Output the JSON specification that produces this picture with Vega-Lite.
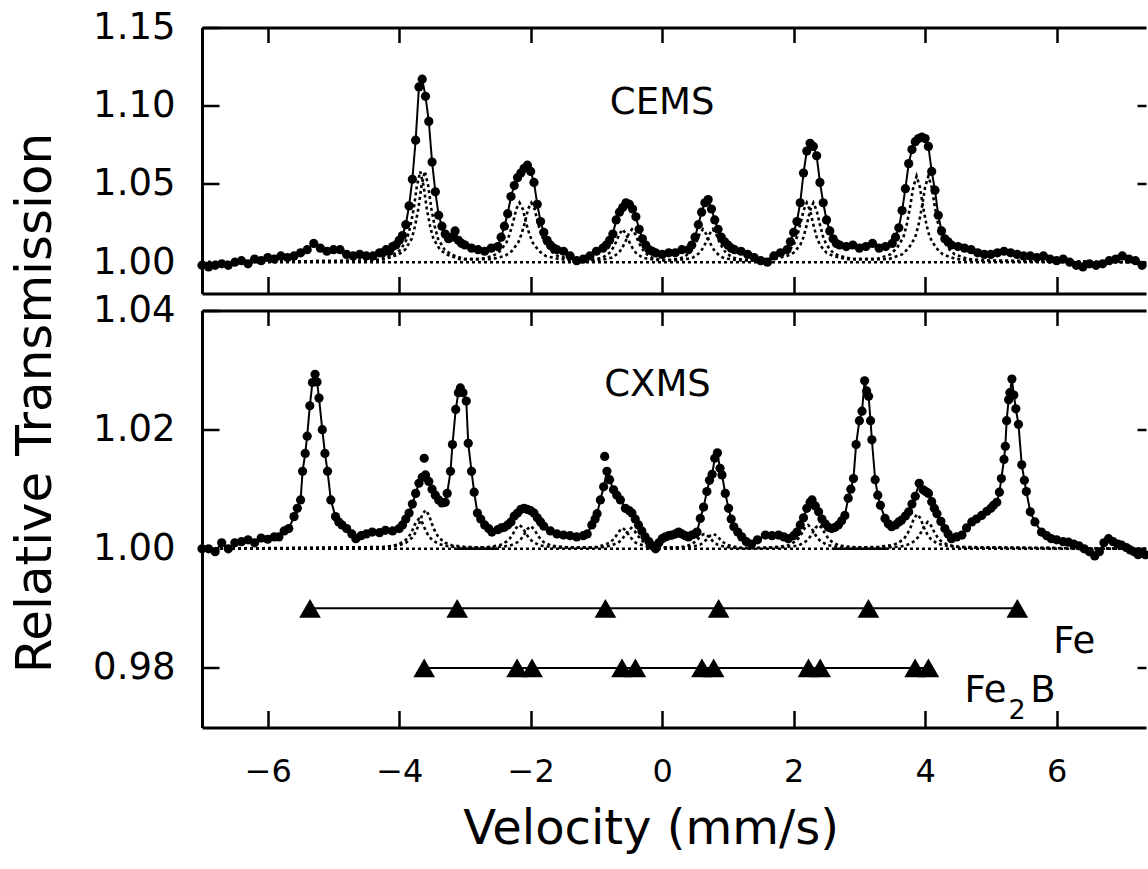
{
"$schema":"https://vega.github.io/schema/vega-lite/v6.json",
"background":"white",
"padding":{"left":10,"top":8.5,"right":0,"bottom":0},
"spacing":17,
"bounds":"flush",
"config":{"view":{"stroke":null},"axis":{"domainColor":"black","tickColor":"black","labelColor":"black","titleColor":"black","grid":false,"labelFont":"DejaVu Sans","titleFont":"DejaVu Sans","titleFontWeight":"normal","domainWidth":3,"tickWidth":2.5,"labelFlush":false,"labelOverlap":false}},
"datasets":{
"base":[{"v":-7,"t":1},{"v":7.36,"t":1}],
"seg":[{"v":-3.12,"t":1,"s":1},{"v":-2.5,"t":1,"s":1},{"v":2.58,"t":1,"s":2},{"v":3.44,"t":1,"s":2}],
"tri":[{"v":-5.357,"t":0.99,"r":"Fe"},{"v":-3.118,"t":0.99,"r":"Fe"},{"v":-0.863,"t":0.99,"r":"Fe"},{"v":0.859,"t":0.99,"r":"Fe"},{"v":3.138,"t":0.99,"r":"Fe"},{"v":5.403,"t":0.99,"r":"Fe"},
{"v":-3.62,"t":0.98,"r":"Fe2B"},{"v":-2.207,"t":0.98,"r":"Fe2B"},{"v":-1.979,"t":0.98,"r":"Fe2B"},{"v":-0.611,"t":0.98,"r":"Fe2B"},{"v":-0.407,"t":0.98,"r":"Fe2B"},{"v":0.605,"t":0.98,"r":"Fe2B"},{"v":0.783,"t":0.98,"r":"Fe2B"},{"v":2.226,"t":0.98,"r":"Fe2B"},{"v":2.404,"t":0.98,"r":"Fe2B"},{"v":3.848,"t":0.98,"r":"Fe2B"},{"v":4.05,"t":0.98,"r":"Fe2B"}],
"labTop":[{"v":0,"t":1.0946,"label":"CEMS"}],
"labBotC":[{"v":-0.07,"t":1.0256,"label":"CXMS"}],
"labBotL":[{"v":5.95,"t":0.9825,"label":"Fe"},{"v":4.6,"t":0.9743,"label":"Fe"},{"v":5.6,"t":0.9743,"label":"B"}],
"labSub":[{"v":5.27,"t":0.97151,"label":"2"}],
"cems":[
{"v":-7.0,"t":0.998},{"v":-6.9,"t":0.997},{"v":-6.8,"t":0.998},{"v":-6.7,"t":0.999},{"v":-6.6,"t":0.998},{"v":-6.5,"t":1.000},{"v":-6.4,"t":1.001},{"v":-6.3,"t":0.999},{"v":-6.2,"t":1.002},{"v":-6.1,"t":1.001},{"v":-6.0,"t":1.003},{"v":-5.9,"t":1.002},{"v":-5.8,"t":1.004},{"v":-5.7,"t":1.003},{"v":-5.6,"t":1.004},{"v":-5.5,"t":1.006},{"v":-5.4,"t":1.008},{"v":-5.3,"t":1.012},{"v":-5.2,"t":1.009},{"v":-5.1,"t":1.007},{"v":-5.0,"t":1.008},{"v":-4.9,"t":1.008},{"v":-4.8,"t":1.005},{"v":-4.7,"t":1.004},{"v":-4.6,"t":1.005},{"v":-4.5,"t":1.004},{"v":-4.4,"t":1.004},{"v":-4.3,"t":1.006},
{"v":-4.25,"t":1.006},{"v":-4.2,"t":1.008},{"v":-4.15,"t":1.007},{"v":-4.1,"t":1.010},{"v":-4.05,"t":1.011},{"v":-4.0,"t":1.014},{"v":-3.95,"t":1.017},{"v":-3.9,"t":1.024},{"v":-3.85,"t":1.036},{"v":-3.8,"t":1.053},{"v":-3.75,"t":1.078},{"v":-3.7,"t":1.112},{"v":-3.65,"t":1.117},{"v":-3.6,"t":1.106},{"v":-3.55,"t":1.090},{"v":-3.5,"t":1.064},{"v":-3.45,"t":1.045},{"v":-3.4,"t":1.030},{"v":-3.35,"t":1.023},{"v":-3.3,"t":1.018},{"v":-3.25,"t":1.015},{"v":-3.2,"t":1.016},{"v":-3.15,"t":1.020},{"v":-3.1,"t":1.014},{"v":-3.05,"t":1.012},{"v":-3.0,"t":1.011},
{"v":-2.9,"t":1.009},{"v":-2.8,"t":1.008},{"v":-2.7,"t":1.007},{"v":-2.6,"t":1.009},{"v":-2.5,"t":1.010},
{"v":-2.45,"t":1.016},{"v":-2.4,"t":1.023},{"v":-2.35,"t":1.031},{"v":-2.3,"t":1.042},{"v":-2.25,"t":1.049},{"v":-2.2,"t":1.054},{"v":-2.15,"t":1.057},{"v":-2.1,"t":1.060},{"v":-2.05,"t":1.062},{"v":-2.0,"t":1.058},{"v":-1.95,"t":1.051},{"v":-1.9,"t":1.037},{"v":-1.85,"t":1.026},{"v":-1.8,"t":1.019},{"v":-1.75,"t":1.014},{"v":-1.7,"t":1.011},{"v":-1.65,"t":1.009},{"v":-1.6,"t":1.008},
{"v":-1.5,"t":1.007},{"v":-1.4,"t":1.004},{"v":-1.3,"t":1.001},{"v":-1.2,"t":1.002},{"v":-1.1,"t":1.004},{"v":-1.0,"t":1.007},
{"v":-0.9,"t":1.009},{"v":-0.85,"t":1.011},{"v":-0.8,"t":1.014},{"v":-0.75,"t":1.018},{"v":-0.7,"t":1.027},{"v":-0.65,"t":1.032},{"v":-0.6,"t":1.035},{"v":-0.55,"t":1.038},{"v":-0.5,"t":1.037},{"v":-0.45,"t":1.034},{"v":-0.4,"t":1.029},{"v":-0.35,"t":1.021},{"v":-0.3,"t":1.015},{"v":-0.25,"t":1.011},{"v":-0.2,"t":1.008},{"v":-0.15,"t":1.007},{"v":-0.1,"t":1.006},
{"v":0.0,"t":1.005},{"v":0.1,"t":1.006},{"v":0.2,"t":1.006},{"v":0.3,"t":1.008},
{"v":0.4,"t":1.008},{"v":0.45,"t":1.011},{"v":0.5,"t":1.016},{"v":0.55,"t":1.024},{"v":0.6,"t":1.032},{"v":0.65,"t":1.038},{"v":0.7,"t":1.040},{"v":0.75,"t":1.034},{"v":0.8,"t":1.027},{"v":0.85,"t":1.021},{"v":0.9,"t":1.016},{"v":0.95,"t":1.013},{"v":1.0,"t":1.011},{"v":1.05,"t":1.009},{"v":1.1,"t":1.008},
{"v":1.2,"t":1.007},{"v":1.3,"t":1.005},{"v":1.4,"t":1.003},{"v":1.5,"t":1.001},{"v":1.6,"t":1.000},{"v":1.7,"t":1.004},{"v":1.8,"t":1.006},{"v":1.9,"t":1.008},
{"v":1.95,"t":1.013},{"v":2.0,"t":1.019},{"v":2.05,"t":1.026},{"v":2.1,"t":1.038},{"v":2.15,"t":1.057},{"v":2.2,"t":1.071},{"v":2.25,"t":1.076},{"v":2.3,"t":1.074},{"v":2.35,"t":1.068},{"v":2.4,"t":1.051},{"v":2.45,"t":1.038},{"v":2.5,"t":1.027},{"v":2.55,"t":1.020},{"v":2.6,"t":1.015},{"v":2.65,"t":1.012},{"v":2.7,"t":1.011},
{"v":2.8,"t":1.010},{"v":2.9,"t":1.011},{"v":3.0,"t":1.009},{"v":3.1,"t":1.010},{"v":3.2,"t":1.012},{"v":3.3,"t":1.009},{"v":3.4,"t":1.010},{"v":3.5,"t":1.012},
{"v":3.55,"t":1.016},{"v":3.6,"t":1.022},{"v":3.65,"t":1.033},{"v":3.7,"t":1.047},{"v":3.75,"t":1.063},{"v":3.8,"t":1.072},{"v":3.85,"t":1.077},{"v":3.9,"t":1.079},{"v":3.95,"t":1.080},{"v":4.0,"t":1.079},{"v":4.05,"t":1.074},{"v":4.1,"t":1.058},{"v":4.15,"t":1.046},{"v":4.2,"t":1.030},{"v":4.25,"t":1.020},{"v":4.3,"t":1.015},{"v":4.35,"t":1.013},{"v":4.4,"t":1.011},{"v":4.5,"t":1.010},
{"v":4.6,"t":1.009},{"v":4.7,"t":1.008},{"v":4.8,"t":1.006},{"v":4.9,"t":1.005},{"v":5.0,"t":1.005},{"v":5.1,"t":1.006},{"v":5.2,"t":1.007},{"v":5.3,"t":1.006},{"v":5.4,"t":1.005},{"v":5.5,"t":1.004},{"v":5.6,"t":1.004},{"v":5.7,"t":1.003},{"v":5.8,"t":1.004},{"v":5.9,"t":1.002},{"v":6.0,"t":1.001},{"v":6.1,"t":1.002},{"v":6.2,"t":1.000},{"v":6.3,"t":0.998},{"v":6.4,"t":0.997},{"v":6.5,"t":0.999},{"v":6.6,"t":0.998},{"v":6.7,"t":0.999},{"v":6.8,"t":1.001},{"v":6.9,"t":1.002},{"v":7.0,"t":1.004},{"v":7.1,"t":1.002},{"v":7.2,"t":1.001},{"v":7.3,"t":0.998}],
"cemsComp":[
{"v":-7.0,"t":1.0,"c":"A"},{"v":-4.4,"t":1.001,"c":"A"},{"v":-4.28,"t":1.002,"c":"A"},{"v":-4.08,"t":1.005,"c":"A"},{"v":-3.98,"t":1.008,"c":"A"},{"v":-3.88,"t":1.015,"c":"A"},{"v":-3.83,"t":1.023,"c":"A"},{"v":-3.78,"t":1.034,"c":"A"},{"v":-3.73,"t":1.049,"c":"A"},{"v":-3.68,"t":1.058,"c":"A"},{"v":-3.63,"t":1.049,"c":"A"},{"v":-3.58,"t":1.034,"c":"A"},{"v":-3.53,"t":1.023,"c":"A"},{"v":-3.48,"t":1.015,"c":"A"},{"v":-3.38,"t":1.008,"c":"A"},{"v":-3.28,"t":1.005,"c":"A"},{"v":-3.08,"t":1.002,"c":"A"},{"v":-2.9,"t":1.002,"c":"A"},
{"v":-2.77,"t":1.002,"c":"A"},{"v":-2.57,"t":1.004,"c":"A"},{"v":-2.47,"t":1.007,"c":"A"},{"v":-2.37,"t":1.0125,"c":"A"},{"v":-2.32,"t":1.018,"c":"A"},{"v":-2.27,"t":1.025,"c":"A"},{"v":-2.22,"t":1.034,"c":"A"},{"v":-2.17,"t":1.038,"c":"A"},{"v":-2.12,"t":1.034,"c":"A"},{"v":-2.07,"t":1.025,"c":"A"},{"v":-2.02,"t":1.018,"c":"A"},{"v":-1.97,"t":1.0125,"c":"A"},{"v":-1.87,"t":1.007,"c":"A"},{"v":-1.77,"t":1.004,"c":"A"},{"v":-1.57,"t":1.002,"c":"A"},{"v":-1.3,"t":1.001,"c":"A"},
{"v":-1.2,"t":1.001,"c":"A"},{"v":-1.0,"t":1.002,"c":"A"},{"v":-0.9,"t":1.003,"c":"A"},{"v":-0.8,"t":1.006,"c":"A"},{"v":-0.75,"t":1.009,"c":"A"},{"v":-0.7,"t":1.013,"c":"A"},{"v":-0.65,"t":1.018,"c":"A"},{"v":-0.6,"t":1.021,"c":"A"},{"v":-0.55,"t":1.018,"c":"A"},{"v":-0.5,"t":1.013,"c":"A"},{"v":-0.45,"t":1.009,"c":"A"},{"v":-0.4,"t":1.006,"c":"A"},{"v":-0.3,"t":1.003,"c":"A"},{"v":-0.2,"t":1.002,"c":"A"},{"v":0.0,"t":1.001,"c":"A"},
{"v":0.22,"t":1.002,"c":"A"},{"v":0.32,"t":1.003,"c":"A"},{"v":0.42,"t":1.006,"c":"A"},{"v":0.47,"t":1.009,"c":"A"},{"v":0.52,"t":1.013,"c":"A"},{"v":0.57,"t":1.018,"c":"A"},{"v":0.62,"t":1.021,"c":"A"},{"v":0.67,"t":1.018,"c":"A"},{"v":0.72,"t":1.013,"c":"A"},{"v":0.77,"t":1.009,"c":"A"},{"v":0.82,"t":1.006,"c":"A"},{"v":0.92,"t":1.003,"c":"A"},{"v":1.02,"t":1.002,"c":"A"},{"v":1.22,"t":1.001,"c":"A"},
{"v":1.6,"t":1.002,"c":"A"},{"v":1.8,"t":1.004,"c":"A"},{"v":1.9,"t":1.006,"c":"A"},{"v":2.0,"t":1.011,"c":"A"},{"v":2.05,"t":1.016,"c":"A"},{"v":2.1,"t":1.024,"c":"A"},{"v":2.15,"t":1.033,"c":"A"},{"v":2.2,"t":1.038,"c":"A"},{"v":2.25,"t":1.033,"c":"A"},{"v":2.3,"t":1.024,"c":"A"},{"v":2.35,"t":1.016,"c":"A"},{"v":2.4,"t":1.011,"c":"A"},{"v":2.5,"t":1.006,"c":"A"},{"v":2.6,"t":1.004,"c":"A"},{"v":2.8,"t":1.002,"c":"A"},{"v":3.0,"t":1.002,"c":"A"},
{"v":3.27,"t":1.002,"c":"A"},{"v":3.47,"t":1.005,"c":"A"},{"v":3.57,"t":1.009,"c":"A"},{"v":3.67,"t":1.016,"c":"A"},{"v":3.72,"t":1.024,"c":"A"},{"v":3.77,"t":1.035,"c":"A"},{"v":3.82,"t":1.048,"c":"A"},{"v":3.87,"t":1.055,"c":"A"},{"v":3.92,"t":1.048,"c":"A"},{"v":3.97,"t":1.035,"c":"A"},{"v":4.02,"t":1.024,"c":"A"},{"v":4.07,"t":1.016,"c":"A"},{"v":4.17,"t":1.009,"c":"A"},{"v":4.27,"t":1.005,"c":"A"},{"v":4.47,"t":1.002,"c":"A"},{"v":4.8,"t":1.001,"c":"A"},{"v":7.36,"t":1.0,"c":"A"},
{"v":-7.0,"t":1.0,"c":"B"},{"v":-4.4,"t":1.001,"c":"B"},{"v":-4.21,"t":1.002,"c":"B"},{"v":-4.01,"t":1.005,"c":"B"},{"v":-3.91,"t":1.008,"c":"B"},{"v":-3.81,"t":1.015,"c":"B"},{"v":-3.76,"t":1.023,"c":"B"},{"v":-3.71,"t":1.034,"c":"B"},{"v":-3.66,"t":1.049,"c":"B"},{"v":-3.61,"t":1.058,"c":"B"},{"v":-3.56,"t":1.049,"c":"B"},{"v":-3.51,"t":1.034,"c":"B"},{"v":-3.46,"t":1.023,"c":"B"},{"v":-3.41,"t":1.015,"c":"B"},{"v":-3.31,"t":1.008,"c":"B"},{"v":-3.21,"t":1.005,"c":"B"},{"v":-3.01,"t":1.002,"c":"B"},{"v":-2.8,"t":1.002,"c":"B"},
{"v":-2.59,"t":1.002,"c":"B"},{"v":-2.39,"t":1.004,"c":"B"},{"v":-2.29,"t":1.007,"c":"B"},{"v":-2.19,"t":1.0125,"c":"B"},{"v":-2.14,"t":1.018,"c":"B"},{"v":-2.09,"t":1.025,"c":"B"},{"v":-2.04,"t":1.034,"c":"B"},{"v":-1.99,"t":1.038,"c":"B"},{"v":-1.94,"t":1.034,"c":"B"},{"v":-1.89,"t":1.025,"c":"B"},{"v":-1.84,"t":1.018,"c":"B"},{"v":-1.79,"t":1.0125,"c":"B"},{"v":-1.69,"t":1.007,"c":"B"},{"v":-1.59,"t":1.004,"c":"B"},{"v":-1.39,"t":1.002,"c":"B"},{"v":-1.2,"t":1.001,"c":"B"},
{"v":-1.06,"t":1.001,"c":"B"},{"v":-0.86,"t":1.002,"c":"B"},{"v":-0.76,"t":1.003,"c":"B"},{"v":-0.66,"t":1.006,"c":"B"},{"v":-0.61,"t":1.009,"c":"B"},{"v":-0.56,"t":1.013,"c":"B"},{"v":-0.51,"t":1.018,"c":"B"},{"v":-0.46,"t":1.021,"c":"B"},{"v":-0.41,"t":1.018,"c":"B"},{"v":-0.36,"t":1.013,"c":"B"},{"v":-0.31,"t":1.009,"c":"B"},{"v":-0.26,"t":1.006,"c":"B"},{"v":-0.16,"t":1.003,"c":"B"},{"v":-0.06,"t":1.002,"c":"B"},{"v":0.14,"t":1.001,"c":"B"},
{"v":0.37,"t":1.002,"c":"B"},{"v":0.47,"t":1.003,"c":"B"},{"v":0.57,"t":1.006,"c":"B"},{"v":0.62,"t":1.009,"c":"B"},{"v":0.67,"t":1.013,"c":"B"},{"v":0.72,"t":1.018,"c":"B"},{"v":0.77,"t":1.021,"c":"B"},{"v":0.82,"t":1.018,"c":"B"},{"v":0.87,"t":1.013,"c":"B"},{"v":0.92,"t":1.009,"c":"B"},{"v":0.97,"t":1.006,"c":"B"},{"v":1.07,"t":1.003,"c":"B"},{"v":1.17,"t":1.002,"c":"B"},{"v":1.37,"t":1.001,"c":"B"},
{"v":1.7,"t":1.002,"c":"B"},{"v":1.9,"t":1.004,"c":"B"},{"v":2.0,"t":1.006,"c":"B"},{"v":2.1,"t":1.011,"c":"B"},{"v":2.15,"t":1.016,"c":"B"},{"v":2.2,"t":1.024,"c":"B"},{"v":2.25,"t":1.033,"c":"B"},{"v":2.3,"t":1.038,"c":"B"},{"v":2.35,"t":1.033,"c":"B"},{"v":2.4,"t":1.024,"c":"B"},{"v":2.45,"t":1.016,"c":"B"},{"v":2.5,"t":1.011,"c":"B"},{"v":2.6,"t":1.006,"c":"B"},{"v":2.7,"t":1.004,"c":"B"},{"v":2.9,"t":1.002,"c":"B"},{"v":3.1,"t":1.002,"c":"B"},
{"v":3.45,"t":1.002,"c":"B"},{"v":3.65,"t":1.005,"c":"B"},{"v":3.75,"t":1.009,"c":"B"},{"v":3.85,"t":1.016,"c":"B"},{"v":3.9,"t":1.024,"c":"B"},{"v":3.95,"t":1.035,"c":"B"},{"v":4.0,"t":1.048,"c":"B"},{"v":4.05,"t":1.055,"c":"B"},{"v":4.1,"t":1.048,"c":"B"},{"v":4.15,"t":1.035,"c":"B"},{"v":4.2,"t":1.024,"c":"B"},{"v":4.25,"t":1.016,"c":"B"},{"v":4.35,"t":1.009,"c":"B"},{"v":4.45,"t":1.005,"c":"B"},{"v":4.65,"t":1.002,"c":"B"},{"v":5.0,"t":1.001,"c":"B"},{"v":7.36,"t":1.0,"c":"B"}],
"cxms":[
{"v":-7.0,"t":1.000},{"v":-6.9,"t":1.000},{"v":-6.8,"t":0.9995},{"v":-6.7,"t":1.001},{"v":-6.6,"t":1.000},{"v":-6.5,"t":1.001},{"v":-6.4,"t":1.0012},{"v":-6.3,"t":1.0015},{"v":-6.2,"t":1.001},{"v":-6.1,"t":1.0018},{"v":-6.0,"t":1.0016},{"v":-5.9,"t":1.002},{"v":-5.83,"t":1.002},
{"v":-5.75,"t":1.003},{"v":-5.68,"t":1.0034},{"v":-5.6,"t":1.0054},{"v":-5.55,"t":1.0068},{"v":-5.5,"t":1.0082},{"v":-5.47,"t":1.013},{"v":-5.43,"t":1.016},{"v":-5.4,"t":1.0189},{"v":-5.36,"t":1.024},{"v":-5.32,"t":1.0279},{"v":-5.28,"t":1.0293},{"v":-5.25,"t":1.028},{"v":-5.22,"t":1.0253},{"v":-5.17,"t":1.020},{"v":-5.13,"t":1.016},{"v":-5.09,"t":1.013},{"v":-5.04,"t":1.0082},{"v":-4.97,"t":1.0054},{"v":-4.92,"t":1.0045},{"v":-4.87,"t":1.004},{"v":-4.8,"t":1.0034},{"v":-4.72,"t":1.0025},{"v":-4.66,"t":1.0017},{"v":-4.58,"t":1.0022},{"v":-4.5,"t":1.0025},{"v":-4.41,"t":1.0028},{"v":-4.3,"t":1.0027},{"v":-4.21,"t":1.0031},{"v":-4.1,"t":1.003},{"v":-4.0,"t":1.0034},
{"v":-3.95,"t":1.004},{"v":-3.9,"t":1.005},{"v":-3.85,"t":1.006},{"v":-3.8,"t":1.0075},{"v":-3.75,"t":1.0093},{"v":-3.7,"t":1.011},{"v":-3.65,"t":1.012},{"v":-3.62,"t":1.0152,"o":1},{"v":-3.6,"t":1.0124},{"v":-3.55,"t":1.0113},{"v":-3.5,"t":1.010},{"v":-3.45,"t":1.009},{"v":-3.4,"t":1.0082},{"v":-3.35,"t":1.0077},{"v":-3.3,"t":1.0078},{"v":-3.27,"t":1.0093},{"v":-3.22,"t":1.013},{"v":-3.19,"t":1.0175},{"v":-3.14,"t":1.0234},{"v":-3.1,"t":1.0262},{"v":-3.07,"t":1.027},{"v":-3.03,"t":1.0262},{"v":-2.98,"t":1.0248},{"v":-2.95,"t":1.0177},{"v":-2.9,"t":1.013},{"v":-2.86,"t":1.0095},{"v":-2.81,"t":1.006},{"v":-2.76,"t":1.005},{"v":-2.7,"t":1.004},{"v":-2.64,"t":1.0034},{"v":-2.59,"t":1.0028},{"v":-2.5,"t":1.0032},
{"v":-2.45,"t":1.0035},{"v":-2.4,"t":1.0036},{"v":-2.35,"t":1.004},{"v":-2.3,"t":1.0045},{"v":-2.25,"t":1.0055},{"v":-2.2,"t":1.006},{"v":-2.15,"t":1.0066},{"v":-2.1,"t":1.0068},{"v":-2.05,"t":1.0066},{"v":-2.0,"t":1.0064},{"v":-1.95,"t":1.006},{"v":-1.9,"t":1.0052},{"v":-1.85,"t":1.0045},{"v":-1.8,"t":1.0038},{"v":-1.7,"t":1.003},{"v":-1.6,"t":1.0025},{"v":-1.5,"t":1.0023},{"v":-1.4,"t":1.0022},{"v":-1.3,"t":1.002},{"v":-1.2,"t":1.0022},{"v":-1.14,"t":1.0025},
{"v":-1.07,"t":1.004},{"v":-1.02,"t":1.005},{"v":-0.99,"t":1.0059},{"v":-0.94,"t":1.0082},{"v":-0.89,"t":1.0104},{"v":-0.874,"t":1.0155,"o":1},{"v":-0.84,"t":1.013},{"v":-0.8,"t":1.0116},{"v":-0.74,"t":1.0099},{"v":-0.69,"t":1.009},{"v":-0.635,"t":1.0082},{"v":-0.56,"t":1.0068},{"v":-0.5,"t":1.0064},{"v":-0.46,"t":1.006},{"v":-0.41,"t":1.005},{"v":-0.36,"t":1.004},{"v":-0.31,"t":1.003},{"v":-0.26,"t":1.002},{"v":-0.2,"t":1.0012},{"v":-0.15,"t":1.0005},{"v":-0.1,"t":1.000},{"v":-0.05,"t":1.001},{"v":0.0,"t":1.0017},{"v":0.05,"t":1.002},{"v":0.1,"t":1.0022},{"v":0.15,"t":1.0023},{"v":0.2,"t":1.0025},{"v":0.25,"t":1.0028},{"v":0.3,"t":1.0025},{"v":0.35,"t":1.0022},{"v":0.4,"t":1.002},{"v":0.45,"t":1.0023},{"v":0.5,"t":1.0025},
{"v":0.53,"t":1.0028},{"v":0.58,"t":1.0051},{"v":0.63,"t":1.007},{"v":0.68,"t":1.0096},{"v":0.72,"t":1.0115},{"v":0.76,"t":1.0125},{"v":0.8,"t":1.0152},{"v":0.84,"t":1.0161},{"v":0.88,"t":1.0135},{"v":0.91,"t":1.0124},{"v":0.96,"t":1.0093},{"v":1.01,"t":1.0068},{"v":1.05,"t":1.005},{"v":1.09,"t":1.0037},{"v":1.15,"t":1.0028},{"v":1.21,"t":1.002},{"v":1.28,"t":1.0012},{"v":1.36,"t":1.0008},{"v":1.45,"t":1.0015},{"v":1.57,"t":1.0023},{"v":1.67,"t":1.0022},{"v":1.77,"t":1.0023},{"v":1.85,"t":1.002},{"v":1.92,"t":1.0017},
{"v":2.0,"t":1.0022},{"v":2.05,"t":1.0028},{"v":2.1,"t":1.004},{"v":2.15,"t":1.0052},{"v":2.2,"t":1.0068},{"v":2.25,"t":1.0078},{"v":2.28,"t":1.0082},{"v":2.33,"t":1.0072},{"v":2.38,"t":1.0062},{"v":2.43,"t":1.005},{"v":2.48,"t":1.0042},{"v":2.53,"t":1.0036},{"v":2.58,"t":1.0034},{"v":2.63,"t":1.0036},{"v":2.68,"t":1.004},{"v":2.73,"t":1.0047},
{"v":2.78,"t":1.0056},{"v":2.83,"t":1.0085},{"v":2.87,"t":1.010},{"v":2.91,"t":1.0118},{"v":2.95,"t":1.0175},{"v":3.0,"t":1.0215},{"v":3.04,"t":1.0231},{"v":3.08,"t":1.0282},{"v":3.11,"t":1.0265},{"v":3.14,"t":1.0256},{"v":3.17,"t":1.0215},{"v":3.19,"t":1.0183},{"v":3.24,"t":1.0116},{"v":3.28,"t":1.009},{"v":3.32,"t":1.0073},{"v":3.39,"t":1.0051},{"v":3.44,"t":1.0042},{"v":3.49,"t":1.0037},{"v":3.55,"t":1.004},{"v":3.6,"t":1.0045},{"v":3.64,"t":1.0048},
{"v":3.7,"t":1.0055},{"v":3.75,"t":1.0062},{"v":3.8,"t":1.0075},{"v":3.85,"t":1.0088},{"v":3.91,"t":1.011},{"v":3.97,"t":1.0099},{"v":4.01,"t":1.0096},{"v":4.05,"t":1.0093},{"v":4.1,"t":1.0079},{"v":4.14,"t":1.0068},{"v":4.18,"t":1.0059},{"v":4.24,"t":1.0046},{"v":4.3,"t":1.0034},{"v":4.35,"t":1.0025},{"v":4.4,"t":1.0017},{"v":4.48,"t":1.002},{"v":4.56,"t":1.0023},{"v":4.63,"t":1.0035},{"v":4.71,"t":1.0045},{"v":4.78,"t":1.005},{"v":4.86,"t":1.0056},{"v":4.94,"t":1.0063},{"v":5.0,"t":1.0068},{"v":5.04,"t":1.0073},
{"v":5.09,"t":1.0078},{"v":5.13,"t":1.0095},{"v":5.16,"t":1.0118},{"v":5.2,"t":1.015},{"v":5.22,"t":1.0172},{"v":5.24,"t":1.0215},{"v":5.27,"t":1.025},{"v":5.29,"t":1.0262},{"v":5.32,"t":1.0285},{"v":5.35,"t":1.0258},{"v":5.38,"t":1.0235},{"v":5.42,"t":1.0209},{"v":5.47,"t":1.0141},{"v":5.51,"t":1.0115},{"v":5.54,"t":1.0096},{"v":5.6,"t":1.0062},{"v":5.67,"t":1.0045},{"v":5.77,"t":1.0028},{"v":5.85,"t":1.0022},{"v":5.92,"t":1.0017},{"v":6.0,"t":1.0015},{"v":6.1,"t":1.0012},{"v":6.18,"t":1.0011},{"v":6.26,"t":1.0008},{"v":6.34,"t":1.0005},{"v":6.42,"t":1.000},{"v":6.5,"t":0.9995},{"v":6.58,"t":0.9988},{"v":6.65,"t":0.9995},{"v":6.72,"t":1.001},{"v":6.79,"t":1.0017},{"v":6.86,"t":1.0012},{"v":6.93,"t":1.0008},{"v":6.99,"t":1.0006},{"v":7.06,"t":1.0002},{"v":7.12,"t":0.9998},{"v":7.18,"t":0.9995},{"v":7.24,"t":0.999},{"v":7.3,"t":0.9993},{"v":7.35,"t":0.999}],
"cxmsComp":[
{"v":-7.0,"t":1.0,"c":"A"},{"v":-4.3,"t":1.0002,"c":"A"},{"v":-4.1,"t":1.0005,"c":"A"},{"v":-4.0,"t":1.0008,"c":"A"},{"v":-3.9,"t":1.0015,"c":"A"},{"v":-3.85,"t":1.0021,"c":"A"},{"v":-3.8,"t":1.0031,"c":"A"},{"v":-3.75,"t":1.0044,"c":"A"},{"v":-3.7,"t":1.005,"c":"A"},{"v":-3.65,"t":1.0044,"c":"A"},{"v":-3.6,"t":1.0031,"c":"A"},{"v":-3.55,"t":1.0021,"c":"A"},{"v":-3.5,"t":1.0015,"c":"A"},{"v":-3.4,"t":1.0008,"c":"A"},{"v":-3.3,"t":1.0005,"c":"A"},{"v":-3.1,"t":1.0002,"c":"A"},
{"v":-2.77,"t":1.0002,"c":"A"},{"v":-2.57,"t":1.0004,"c":"A"},{"v":-2.47,"t":1.0006,"c":"A"},{"v":-2.37,"t":1.0012,"c":"A"},{"v":-2.32,"t":1.0017,"c":"A"},{"v":-2.27,"t":1.0025,"c":"A"},{"v":-2.22,"t":1.0035,"c":"A"},{"v":-2.17,"t":1.004,"c":"A"},{"v":-2.12,"t":1.0035,"c":"A"},{"v":-2.07,"t":1.0025,"c":"A"},{"v":-2.02,"t":1.0017,"c":"A"},{"v":-1.97,"t":1.0012,"c":"A"},{"v":-1.87,"t":1.0006,"c":"A"},{"v":-1.77,"t":1.0004,"c":"A"},{"v":-1.57,"t":1.0002,"c":"A"},
{"v":-1.2,"t":1.0002,"c":"A"},{"v":-1.0,"t":1.0003,"c":"A"},{"v":-0.9,"t":1.0006,"c":"A"},{"v":-0.8,"t":1.001,"c":"A"},{"v":-0.75,"t":1.0015,"c":"A"},{"v":-0.7,"t":1.0022,"c":"A"},{"v":-0.65,"t":1.003,"c":"A"},{"v":-0.6,"t":1.0035,"c":"A"},{"v":-0.55,"t":1.003,"c":"A"},{"v":-0.5,"t":1.0022,"c":"A"},{"v":-0.45,"t":1.0015,"c":"A"},{"v":-0.4,"t":1.001,"c":"A"},{"v":-0.3,"t":1.0006,"c":"A"},{"v":-0.2,"t":1.0003,"c":"A"},{"v":0.0,"t":1.0002,"c":"A"},
{"v":0.24,"t":1.0002,"c":"A"},{"v":0.34,"t":1.0004,"c":"A"},{"v":0.44,"t":1.0007,"c":"A"},{"v":0.49,"t":1.0011,"c":"A"},{"v":0.54,"t":1.0016,"c":"A"},{"v":0.59,"t":1.0022,"c":"A"},{"v":0.64,"t":1.0025,"c":"A"},{"v":0.69,"t":1.0022,"c":"A"},{"v":0.74,"t":1.0016,"c":"A"},{"v":0.79,"t":1.0011,"c":"A"},{"v":0.84,"t":1.0007,"c":"A"},{"v":0.94,"t":1.0004,"c":"A"},{"v":1.04,"t":1.0002,"c":"A"},{"v":1.24,"t":1.0001,"c":"A"},
{"v":1.62,"t":1.0002,"c":"A"},{"v":1.82,"t":1.0004,"c":"A"},{"v":1.92,"t":1.0006,"c":"A"},{"v":2.02,"t":1.0012,"c":"A"},{"v":2.07,"t":1.0017,"c":"A"},{"v":2.12,"t":1.0025,"c":"A"},{"v":2.17,"t":1.0035,"c":"A"},{"v":2.22,"t":1.004,"c":"A"},{"v":2.27,"t":1.0035,"c":"A"},{"v":2.32,"t":1.0025,"c":"A"},{"v":2.37,"t":1.0017,"c":"A"},{"v":2.42,"t":1.0012,"c":"A"},{"v":2.52,"t":1.0006,"c":"A"},{"v":2.62,"t":1.0004,"c":"A"},{"v":2.82,"t":1.0002,"c":"A"},
{"v":3.28,"t":1.0003,"c":"A"},{"v":3.48,"t":1.0006,"c":"A"},{"v":3.58,"t":1.0009,"c":"A"},{"v":3.68,"t":1.0017,"c":"A"},{"v":3.73,"t":1.0025,"c":"A"},{"v":3.78,"t":1.0036,"c":"A"},{"v":3.83,"t":1.0051,"c":"A"},{"v":3.88,"t":1.0058,"c":"A"},{"v":3.93,"t":1.0051,"c":"A"},{"v":3.98,"t":1.0036,"c":"A"},{"v":4.03,"t":1.0025,"c":"A"},{"v":4.08,"t":1.0017,"c":"A"},{"v":4.18,"t":1.0009,"c":"A"},{"v":4.28,"t":1.0006,"c":"A"},{"v":4.48,"t":1.0003,"c":"A"},{"v":7.36,"t":1.0,"c":"A"},
{"v":-7.0,"t":1.0,"c":"B"},{"v":-4.2,"t":1.0003,"c":"B"},{"v":-4.0,"t":1.0006,"c":"B"},{"v":-3.9,"t":1.001,"c":"B"},{"v":-3.8,"t":1.0019,"c":"B"},{"v":-3.75,"t":1.0028,"c":"B"},{"v":-3.7,"t":1.0041,"c":"B"},{"v":-3.65,"t":1.0057,"c":"B"},{"v":-3.6,"t":1.0065,"c":"B"},{"v":-3.55,"t":1.0057,"c":"B"},{"v":-3.5,"t":1.0041,"c":"B"},{"v":-3.45,"t":1.0028,"c":"B"},{"v":-3.4,"t":1.0019,"c":"B"},{"v":-3.3,"t":1.001,"c":"B"},{"v":-3.2,"t":1.0006,"c":"B"},{"v":-3.0,"t":1.0003,"c":"B"},
{"v":-2.6,"t":1.0002,"c":"B"},{"v":-2.4,"t":1.0004,"c":"B"},{"v":-2.3,"t":1.0006,"c":"B"},{"v":-2.2,"t":1.0011,"c":"B"},{"v":-2.15,"t":1.0016,"c":"B"},{"v":-2.1,"t":1.0024,"c":"B"},{"v":-2.05,"t":1.0033,"c":"B"},{"v":-2.0,"t":1.0038,"c":"B"},{"v":-1.95,"t":1.0033,"c":"B"},{"v":-1.9,"t":1.0024,"c":"B"},{"v":-1.85,"t":1.0016,"c":"B"},{"v":-1.8,"t":1.0011,"c":"B"},{"v":-1.7,"t":1.0006,"c":"B"},{"v":-1.6,"t":1.0004,"c":"B"},{"v":-1.4,"t":1.0002,"c":"B"},
{"v":-1.07,"t":1.0002,"c":"B"},{"v":-0.87,"t":1.0003,"c":"B"},{"v":-0.77,"t":1.0006,"c":"B"},{"v":-0.67,"t":1.001,"c":"B"},{"v":-0.62,"t":1.0015,"c":"B"},{"v":-0.57,"t":1.0022,"c":"B"},{"v":-0.52,"t":1.003,"c":"B"},{"v":-0.47,"t":1.0035,"c":"B"},{"v":-0.42,"t":1.003,"c":"B"},{"v":-0.37,"t":1.0022,"c":"B"},{"v":-0.32,"t":1.0015,"c":"B"},{"v":-0.27,"t":1.001,"c":"B"},{"v":-0.17,"t":1.0006,"c":"B"},{"v":-0.07,"t":1.0003,"c":"B"},{"v":0.13,"t":1.0002,"c":"B"},
{"v":0.38,"t":1.0002,"c":"B"},{"v":0.48,"t":1.0004,"c":"B"},{"v":0.58,"t":1.0007,"c":"B"},{"v":0.63,"t":1.0011,"c":"B"},{"v":0.68,"t":1.0016,"c":"B"},{"v":0.73,"t":1.0022,"c":"B"},{"v":0.78,"t":1.0025,"c":"B"},{"v":0.83,"t":1.0022,"c":"B"},{"v":0.88,"t":1.0016,"c":"B"},{"v":0.93,"t":1.0011,"c":"B"},{"v":0.98,"t":1.0007,"c":"B"},{"v":1.08,"t":1.0004,"c":"B"},{"v":1.18,"t":1.0002,"c":"B"},{"v":1.38,"t":1.0001,"c":"B"},
{"v":1.78,"t":1.0002,"c":"B"},{"v":1.98,"t":1.0004,"c":"B"},{"v":2.08,"t":1.0006,"c":"B"},{"v":2.18,"t":1.0012,"c":"B"},{"v":2.23,"t":1.0017,"c":"B"},{"v":2.28,"t":1.0025,"c":"B"},{"v":2.33,"t":1.0035,"c":"B"},{"v":2.38,"t":1.004,"c":"B"},{"v":2.43,"t":1.0035,"c":"B"},{"v":2.48,"t":1.0025,"c":"B"},{"v":2.53,"t":1.0017,"c":"B"},{"v":2.58,"t":1.0012,"c":"B"},{"v":2.68,"t":1.0006,"c":"B"},{"v":2.78,"t":1.0004,"c":"B"},{"v":2.98,"t":1.0002,"c":"B"},
{"v":3.44,"t":1.0002,"c":"B"},{"v":3.64,"t":1.0004,"c":"B"},{"v":3.74,"t":1.0007,"c":"B"},{"v":3.84,"t":1.0013,"c":"B"},{"v":3.89,"t":1.0019,"c":"B"},{"v":3.94,"t":1.0028,"c":"B"},{"v":3.99,"t":1.0039,"c":"B"},{"v":4.04,"t":1.0045,"c":"B"},{"v":4.09,"t":1.0039,"c":"B"},{"v":4.14,"t":1.0028,"c":"B"},{"v":4.19,"t":1.0019,"c":"B"},{"v":4.24,"t":1.0013,"c":"B"},{"v":4.34,"t":1.0007,"c":"B"},{"v":4.44,"t":1.0004,"c":"B"},{"v":4.64,"t":1.0002,"c":"B"},{"v":7.36,"t":1.0,"c":"B"}]
},
"vconcat":[
{
"width":944,"height":266,
"resolve":{"axis":{"x":"independent","y":"independent"}},
"layer":[
{"data":{"name":"base"},"mark":{"type":"line","color":"black","strokeWidth":2.6,"strokeDash":[3,3]},
 "encoding":{"x":{"field":"v","type":"quantitative","scale":{"domain":[-7,7.36],"nice":false,"zero":false},"axis":null},
  "y":{"field":"t","type":"quantitative","scale":{"domain":[0.98,1.15],"nice":false,"zero":false},"axis":null}}},
{"data":{"name":"cemsComp"},"mark":{"type":"line","color":"black","strokeWidth":2.6,"strokeDash":[3,3]},
 "encoding":{"x":{"field":"v","type":"quantitative","scale":{"domain":[-7,7.36],"nice":false,"zero":false},"axis":null},
  "y":{"field":"t","type":"quantitative","scale":{"domain":[0.98,1.15],"nice":false,"zero":false},"axis":null},
  "detail":{"field":"c"}}},
{"data":{"name":"cems"},"mark":{"type":"line","color":"black","strokeWidth":2},
 "encoding":{"x":{"field":"v","type":"quantitative","scale":{"domain":[-7,7.36],"nice":false,"zero":false},
   "axis":{"orient":"top","values":[-6,-4,-2,0,2,4,6],"labels":false,"tickSize":-15,"title":null}},
  "y":{"field":"t","type":"quantitative","scale":{"domain":[0.98,1.15],"nice":false,"zero":false},
   "axis":{"orient":"right","values":[1,1.05,1.1],"labels":false,"domain":false,"tickSize":-9,"title":null}}}},
{"data":{"name":"cems"},"mark":{"type":"point","filled":true,"size":85,"color":"black","opacity":1},
 "encoding":{"x":{"field":"v","type":"quantitative","scale":{"domain":[-7,7.36],"nice":false,"zero":false},
   "axis":{"orient":"bottom","values":[-6,-4,-2,0,2,4,6],"labels":false,"tickSize":-17,"title":null}},
  "y":{"field":"t","type":"quantitative","scale":{"domain":[0.98,1.15],"nice":false,"zero":false},
   "axis":{"orient":"left","values":[1,1.05,1.1,1.15],"format":".2f","labelFontSize":37,"labelPadding":44,"tickSize":-17,
    "title":"Relative Transmission","titleFontSize":50,"titleAngle":270,"titleX":-152,"titleY":375,"titleBaseline":"alphabetic","titleAlign":"center"}}}},
{"data":{"name":"labTop"},"mark":{"type":"text","font":"DejaVu Sans","fontSize":37,"align":"center","baseline":"alphabetic","color":"black"},
 "encoding":{"x":{"field":"v","type":"quantitative","scale":{"domain":[-7,7.36],"nice":false,"zero":false},"axis":null},
  "y":{"field":"t","type":"quantitative","scale":{"domain":[0.98,1.15],"nice":false,"zero":false},"axis":null},
  "text":{"field":"label"}}}
]},
{
"width":944,"height":417,
"resolve":{"axis":{"x":"independent","y":"independent"}},
"layer":[
{"data":{"name":"base"},"mark":{"type":"line","color":"black","strokeWidth":2.6,"strokeDash":[3,3]},
 "encoding":{"x":{"field":"v","type":"quantitative","scale":{"domain":[-7,7.36],"nice":false,"zero":false},"axis":null},
  "y":{"field":"t","type":"quantitative","scale":{"domain":[0.97,1.04],"nice":false,"zero":false},"axis":null}}},
{"data":{"name":"seg"},"mark":{"type":"line","color":"black","strokeWidth":2.2},
 "encoding":{"x":{"field":"v","type":"quantitative","scale":{"domain":[-7,7.36],"nice":false,"zero":false},"axis":null},
  "y":{"field":"t","type":"quantitative","scale":{"domain":[0.97,1.04],"nice":false,"zero":false},"axis":null},
  "detail":{"field":"s"}}},
{"data":{"name":"cxmsComp"},"mark":{"type":"line","color":"black","strokeWidth":2.6,"strokeDash":[3,3]},
 "encoding":{"x":{"field":"v","type":"quantitative","scale":{"domain":[-7,7.36],"nice":false,"zero":false},"axis":null},
  "y":{"field":"t","type":"quantitative","scale":{"domain":[0.97,1.04],"nice":false,"zero":false},"axis":null},
  "detail":{"field":"c"}}},
{"data":{"name":"cxms"},"transform":[{"filter":"datum.o != 1"}],"mark":{"type":"line","color":"black","strokeWidth":2},
 "encoding":{"x":{"field":"v","type":"quantitative","scale":{"domain":[-7,7.36],"nice":false,"zero":false},
   "axis":{"orient":"top","values":[-6,-4,-2,0,2,4,6],"labels":false,"tickSize":-15,"title":null}},
  "y":{"field":"t","type":"quantitative","scale":{"domain":[0.97,1.04],"nice":false,"zero":false},
   "axis":{"orient":"right","values":[0.98,1,1.02],"labels":false,"domain":false,"tickSize":-9,"title":null}}}},
{"data":{"name":"cxms"},"mark":{"type":"point","filled":true,"size":85,"color":"black","opacity":1},
 "encoding":{"x":{"field":"v","type":"quantitative","scale":{"domain":[-7,7.36],"nice":false,"zero":false},
   "axis":{"orient":"bottom","values":[-6,-4,-2,0,2,4,6],"labelFontSize":32,"labelPadding":46,"tickSize":-17,
    "title":"Velocity (mm/s)","titleFontSize":48,"titleX":448.5,"titleY":116,"titleBaseline":"alphabetic","titleAlign":"center"}},
  "y":{"field":"t","type":"quantitative","scale":{"domain":[0.97,1.04],"nice":false,"zero":false},
   "axis":{"orient":"left","values":[0.98,1,1.02,1.04],"format":".2f","labelFontSize":37,"labelPadding":44,"tickSize":-17,"title":null}}}},
{"data":{"name":"tri"},"mark":{"type":"line","color":"black","strokeWidth":2},
 "encoding":{"x":{"field":"v","type":"quantitative","scale":{"domain":[-7,7.36],"nice":false,"zero":false},"axis":null},
  "y":{"field":"t","type":"quantitative","scale":{"domain":[0.97,1.04],"nice":false,"zero":false},"axis":null},
  "detail":{"field":"r"}}},
{"data":{"name":"tri"},"mark":{"type":"point","shape":"triangle-up","filled":true,"size":470,"color":"black","opacity":1},
 "encoding":{"x":{"field":"v","type":"quantitative","scale":{"domain":[-7,7.36],"nice":false,"zero":false},"axis":null},
  "y":{"field":"t","type":"quantitative","scale":{"domain":[0.97,1.04],"nice":false,"zero":false},"axis":null}}},
{"data":{"name":"labBotC"},"mark":{"type":"text","font":"DejaVu Sans","fontSize":37,"align":"center","baseline":"alphabetic","color":"black"},
 "encoding":{"x":{"field":"v","type":"quantitative","scale":{"domain":[-7,7.36],"nice":false,"zero":false},"axis":null},
  "y":{"field":"t","type":"quantitative","scale":{"domain":[0.97,1.04],"nice":false,"zero":false},"axis":null},
  "text":{"field":"label"}}},
{"data":{"name":"labBotL"},"mark":{"type":"text","font":"DejaVu Sans","fontSize":37,"align":"left","baseline":"alphabetic","color":"black"},
 "encoding":{"x":{"field":"v","type":"quantitative","scale":{"domain":[-7,7.36],"nice":false,"zero":false},"axis":null},
  "y":{"field":"t","type":"quantitative","scale":{"domain":[0.97,1.04],"nice":false,"zero":false},"axis":null},
  "text":{"field":"label"}}},
{"data":{"name":"labSub"},"mark":{"type":"text","font":"DejaVu Sans","fontSize":27,"align":"left","baseline":"alphabetic","color":"black"},
 "encoding":{"x":{"field":"v","type":"quantitative","scale":{"domain":[-7,7.36],"nice":false,"zero":false},"axis":null},
  "y":{"field":"t","type":"quantitative","scale":{"domain":[0.97,1.04],"nice":false,"zero":false},"axis":null},
  "text":{"field":"label"}}}
]}
]
}
